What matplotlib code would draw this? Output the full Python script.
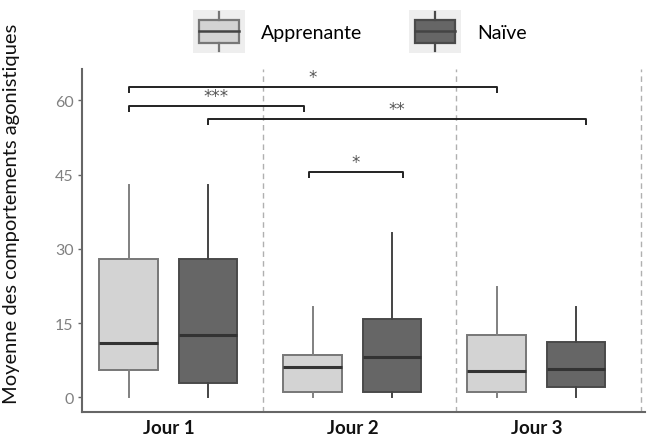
import matplotlib
matplotlib.use("Agg")
import matplotlib.pyplot as plt
from matplotlib.legend_handler import HandlerBase
from matplotlib.patches import Rectangle
from matplotlib.lines import Line2D

# ---- data ----
groups = ["Jour 1", "Jour 2", "Jour 3"]
series = ["Apprenante", "Naïve"]
appr_low = [0.2, 0.2, 0.2]
appr_q1 = [5.6, 1.05, 1.05]
appr_med = [11.1, 6.2, 5.3]
appr_q3 = [28.0, 8.6, 12.6]
appr_high = [42.9, 18.2, 22.3]
naive_low = [0.2, 0.2, 0.2]
naive_q1 = [2.9, 1.05, 2.1]
naive_med = [12.7, 8.1, 5.8]
naive_q3 = [28.0, 15.9, 11.2]
naive_high = [42.9, 33.2, 18.2]
yticks = [0, 15, 30, 45, 60]
# comparisons: (group_a, series_a, group_b, series_b, height, label)
comparisons = [
    (0, 0, 2, 0, 62.8, "*"),
    (0, 0, 1, 0, 58.9, "***"),
    (0, 1, 2, 1, 56.3, "**"),
    (1, 0, 1, 1, 45.6, "*"),
]

plt.rcParams['font.family'] = ['Lato', 'DejaVu Sans']

fig = plt.figure(figsize=(6.48, 4.39), dpi=100)
ax = fig.add_axes([82/648, 1-413.3/439, (645-82)/648, (413.3-70)/439])

fills = ["#d3d3d3", "#666666"]
edges = ["#777777", "#4a4a4a"]
whisk = ["#808080", "#444444"]
dodge = 0.215
width = 0.32

all_stats = [
    (appr_low, appr_q1, appr_med, appr_q3, appr_high),
    (naive_low, naive_q1, naive_med, naive_q3, naive_high),
]

def pos(g, s):
    return g + 1 + (-dodge if s == 0 else dodge)

for s, (lo, q1, med, q3, hi) in enumerate(all_stats):
    stats = []
    for g in range(len(groups)):
        stats.append(dict(whislo=lo[g], q1=q1[g], med=med[g], q3=q3[g], whishi=hi[g], fliers=[]))
    ax.bxp(stats, positions=[pos(g, s) for g in range(len(groups))], widths=width,
           patch_artist=True, showcaps=False, showfliers=False,
           boxprops=dict(facecolor=fills[s], edgecolor=edges[s], linewidth=1.4),
           medianprops=dict(color="#333333", linewidth=2.2),
           whiskerprops=dict(color=whisk[s], linewidth=1.4),
           manage_ticks=False, zorder=3)

# dashed separators
for xv in [1.514, 2.563, 3.567]:
    ax.axvline(xv, color="#b0b0b0", linestyle=(0, (4, 3)), linewidth=1.0, zorder=1)

# significance brackets
offsets = {(1, 0): -0.05, (2, 1): 0.055}
drop = 1.3
for ga, sa, gb, sb, h, lab in comparisons:
    if ga == gb:
        x1 = pos(ga, sa) - 0.02
        x2 = pos(gb, sb) + 0.06
    else:
        x1 = pos(ga, sa) + offsets.get((ga, sa), 0)
        x2 = pos(gb, sb) + offsets.get((gb, sb), 0)
    ax.plot([x1, x1, x2, x2], [h - drop, h, h, h - drop], color="#222222", linewidth=1.4,
            solid_capstyle="butt", zorder=4)
    ax.text((x1 + x2) / 2, h + 0.2, lab, ha="center", va="bottom", fontsize=12,
            color="#555555", family=["DejaVu Sans"])

ax.set_xlim(0.53, 3.59)
ax.set_ylim(-2.99, 66.36)
ax.set_yticks(yticks)
ax.set_yticklabels([str(v) for v in yticks])
ax.set_xticks([1, 2, 3])
ax.set_xticklabels(groups, fontweight="bold", fontsize=13.5, color="#111111")
ax.tick_params(axis="x", length=0, pad=5)
ax.tick_params(axis="y", length=3, width=1, color="#666666", labelcolor="#808080",
               labelsize=11.5, pad=3)
for sp in ["top", "right"]:
    ax.spines[sp].set_visible(False)
for sp in ["left", "bottom"]:
    ax.spines[sp].set_color("#666666")
    ax.spines[sp].set_linewidth(1.5)
ax.set_ylabel("Moyenne des comportements agonistiques", fontsize=14.5, color="#111111")
ax.yaxis.set_label_coords(-0.11, 0.58)


class BoxHandler(HandlerBase):
    def __init__(self, fill, edge):
        super().__init__()
        self.fill = fill
        self.edge = edge

    def create_artists(self, legend, orig_handle, xdescent, ydescent, width, height,
                       fontsize, trans):
        arts = []
        bg = Rectangle((-xdescent, -ydescent - 0.5 * height), width, height * 2.0,
                       facecolor="#eeeeee", edgecolor="none", transform=trans)
        arts.append(bg)
        bx0 = -xdescent + 0.12 * width
        bw = 0.76 * width
        by0 = -ydescent - 0.05 * height
        bh = 1.1 * height
        arts.append(Rectangle((bx0, by0), bw, bh, facecolor=self.fill,
                              edgecolor=self.edge, linewidth=1.6, transform=trans))
        cx = bx0 + bw / 2
        arts.append(Line2D([bx0, bx0 + bw], [by0 + bh / 2] * 2, color="#444444",
                           linewidth=1.8, transform=trans))
        arts.append(Line2D([cx, cx], [by0 + bh, by0 + bh + 0.38 * height], color=self.edge,
                           linewidth=1.6, transform=trans))
        arts.append(Line2D([cx, cx], [by0, by0 - 0.38 * height], color=self.edge,
                           linewidth=1.6, transform=trans))
        return arts


h1 = Rectangle((0, 0), 1, 1)
h2 = Rectangle((0, 0), 1, 1)
leg = fig.legend([h1, h2], series, loc="upper center", bbox_to_anchor=(0.555, 0.99),
                 ncol=2, frameon=False, fontsize=14, handlelength=2.7, handleheight=1.3,
                 handletextpad=0.8, columnspacing=2.4,
                 handler_map={h1: BoxHandler(fills[0], edges[0]),
                              h2: BoxHandler(fills[1], edges[1])})

fig.savefig("out.png", dpi=100)
